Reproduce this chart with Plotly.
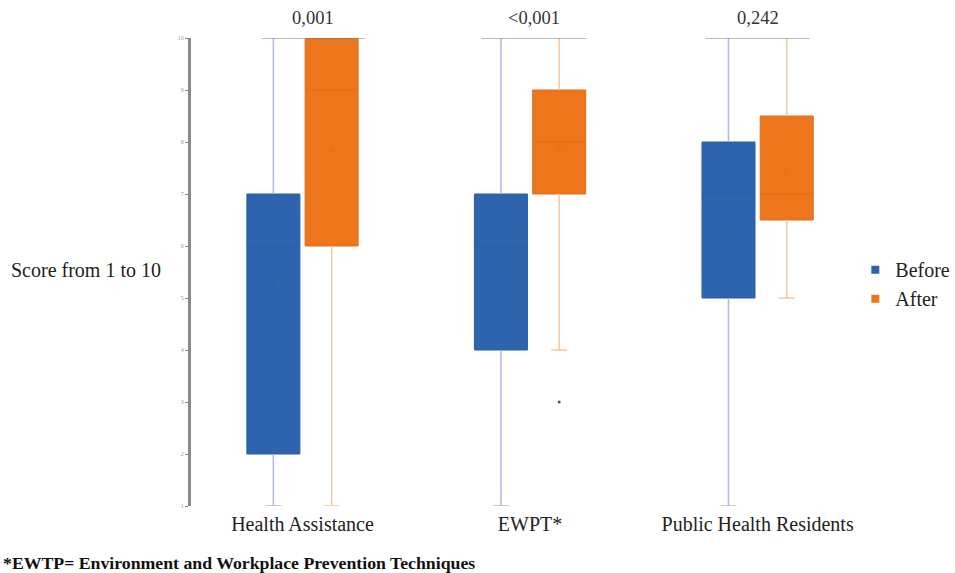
import plotly.graph_objects as go

# Score distributions (1-10) per group, before and after training
groups = ["Health Assistance", "EWPT*", "Public Health Residents"]
p_values = ["0,001", "<0,001", "0,242"]

before_q1 = [2, 4, 5]
before_median = [6, 6, 7]
before_q3 = [7, 7, 8]
before_low = [1, 1, 1]
before_high = [10, 10, 10]
before_mean = [5.3, 5.65, 6.3]

after_q1 = [6, 7, 6.5]
after_median = [9, 8, 7]
after_q3 = [10, 9, 8.5]
after_low = [1, 4, 5]
after_high = [10, 10, 10]
after_mean = [7.85, 7.9, 7.4]

after_outlier_group = [1]
after_outlier_value = [3]

BLUE = "#2E64AD"
BLUE_EDGE = "#2B5EA3"
BLUE_WHISKER = "#AEB9E0"
ORANGE = "#ED761D"
ORANGE_EDGE = "#E06F1B"
ORANGE_WHISKER = "#F4C7A4"
SERIF = "Liberation Serif"

OFFSET = 0.128
BOX_W = 0.233
CAP = 0.035

fig = go.Figure()


def add_series(name, sign, q1, med, q3, low, high, mean, fill, edge, whisk):
    xs = [i + sign * OFFSET for i in range(len(groups))]
    # whisker segments below and above each box
    wx, wy = [], []
    for x, a, b, c, d in zip(xs, low, q1, q3, high):
        wx += [x, x, None, x, x, None]
        wy += [a, b, None, c, d, None]
        if a < b:
            wx += [x - CAP, x + CAP, None]
            wy += [a, a, None]
    fig.add_trace(go.Scatter(x=wx, y=wy, mode="lines", line=dict(color=whisk, width=1.5),
                             showlegend=False, hoverinfo="skip", cliponaxis=False))
    fig.add_trace(go.Box(
        name=name, x=xs, q1=q1, median=med, q3=q3, lowerfence=q1, upperfence=q3,
        width=BOX_W, fillcolor=fill, line=dict(color=edge, width=1),
        whiskerwidth=0, showlegend=False,
    ))
    fig.add_trace(go.Scatter(x=xs, y=mean, mode="markers",
                             marker=dict(symbol="x-thin", size=5, line=dict(color=edge, width=1)),
                             showlegend=False, hoverinfo="skip"))
    # legend entry as a small square
    fig.add_trace(go.Scatter(x=[None], y=[None], mode="markers", name=name,
                             marker=dict(symbol="square", size=8, color=fill)))


add_series("Before", -1, before_q1, before_median, before_q3, before_low, before_high,
           before_mean, BLUE, BLUE_EDGE, BLUE_WHISKER)
add_series("After", 1, after_q1, after_median, after_q3, after_low, after_high,
           after_mean, ORANGE, ORANGE_EDGE, ORANGE_WHISKER)

fig.add_trace(go.Scatter(
    x=[g + OFFSET for g in after_outlier_group], y=after_outlier_value, mode="markers",
    marker=dict(size=3, color="#555555"), showlegend=False, hoverinfo="skip"))

# significance brackets with p-values
bracket_spans = [(-0.179, 0.275), (-0.212, 0.249), (-0.229, 0.229)]
for i, (p, (a, b)) in enumerate(zip(p_values, bracket_spans)):
    fig.add_shape(type="line", x0=i + a, x1=i + b, y0=10, y1=10,
                  line=dict(color="#6F7A8A", width=1.2), layer="above")
    mid = i + (a + b) / 2
    fig.add_shape(type="line", x0=mid, x1=mid, y0=10, y1=10.06,
                  line=dict(color="#6F7A8A", width=1), layer="above")
    fig.add_annotation(x=mid, y=10, yshift=20, text=p, showarrow=False,
                       font=dict(family=SERIF, size=18.5, color="#333333"))

fig.add_annotation(xref="paper", yref="paper", x=-0.272, y=0.505, xanchor="left",
                   yanchor="middle",
                   text="Score from 1 to 10", showarrow=False,
                   font=dict(family=SERIF, size=20, color="#222222"))
fig.add_annotation(xref="paper", yref="paper", x=-0.284, y=-0.121, xanchor="left",
                   yanchor="middle",
                   text="*EWTP= Environment and Workplace Prevention Techniques",
                   showarrow=False, font=dict(family=SERIF, size=17.75, color="#111111",
                                              weight="bold"))

fig.update_layout(
    width=955, height=573,
    margin=dict(l=191, r=95, t=38, b=67, autoexpand=False),
    paper_bgcolor="white", plot_bgcolor="white",
    showlegend=True,
    legend=dict(x=0.993, y=0.474, xanchor="left", yanchor="middle",
                bgcolor="rgba(0,0,0,0)",
                font=dict(family=SERIF, size=20, color="#222222"),
                itemwidth=30, tracegroupgap=0),
    xaxis=dict(range=[-0.49, 2.45], tickvals=[0, 1, 2], ticktext=groups,
               showgrid=False, zeroline=False, showline=False, ticks="",
               ticklabelstandoff=4,
               tickfont=dict(family=SERIF, size=20, color="#222222")),
    yaxis=dict(range=[1, 10], tickvals=list(range(1, 11)), showgrid=False,
               zeroline=False, showline=True, linecolor="#8A8A8A", linewidth=3,
               ticks="outside", ticklen=3, tickcolor="#8A8A8A",
               tickfont=dict(family=SERIF, size=6, color="#999999")),
)

fig.write_html("out.html")
